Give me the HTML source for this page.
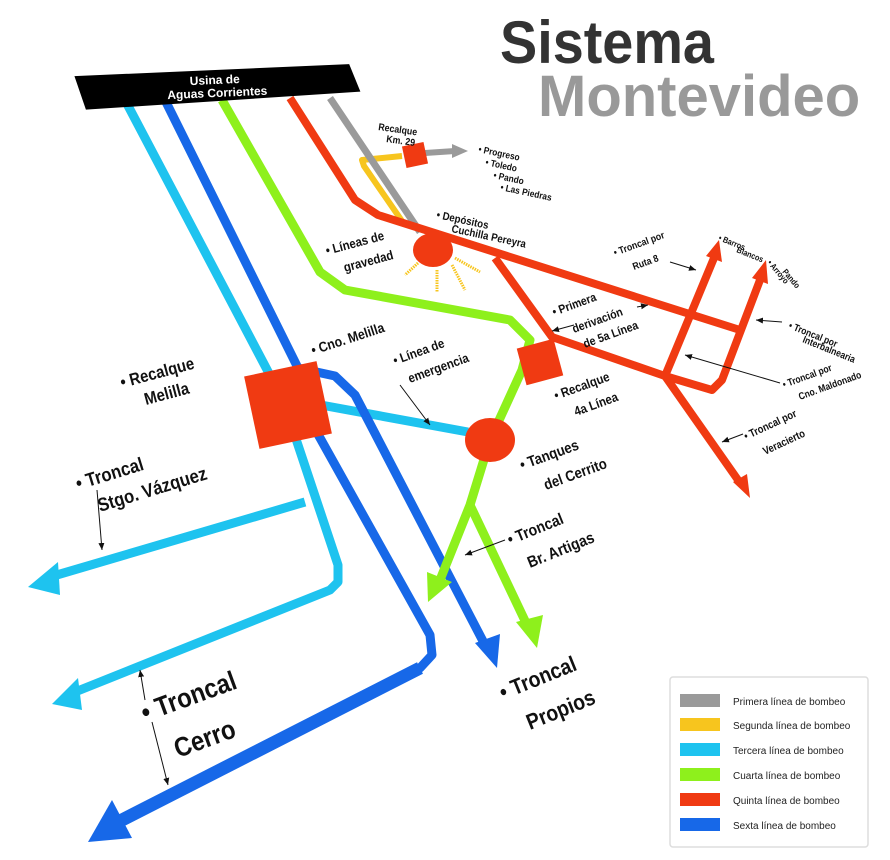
<!DOCTYPE html>
<html><head><meta charset="utf-8"><style>
html,body{margin:0;padding:0;background:#fff;}
svg{display:block;font-family:"Liberation Sans",sans-serif;}
.t{font-family:"Liberation Sans",sans-serif;fill:#111;font-weight:bold;}
</style></head><body>
<svg width="890" height="860" viewBox="0 0 890 860" xmlns="http://www.w3.org/2000/svg">
<defs>
<marker id="ah" markerWidth="8" markerHeight="8" refX="7" refY="4" orient="auto" markerUnits="userSpaceOnUse"><path d="M0,1 L7,4 L0,7 Z" fill="#111"/></marker>
</defs>
<rect width="890" height="860" fill="#fff"/>
<!-- Title -->
<text transform="translate(500,63) scale(0.93,1)" font-size="60" class="t" style="fill:#333">Sistema</text>
<text transform="translate(538,116) scale(1,1)" font-size="58" style="fill:#999" class="t">Montevideo</text>

<!-- yellow -->
<polyline points="404,224 364,166 362,160 402,156" fill="none" stroke="#f7c51e" stroke-width="6" stroke-linejoin="round"/>
<!-- gray -->
<polyline points="330,98 420,232" fill="none" stroke="#9a9a9a" stroke-width="7"/>
<line x1="425" y1="153" x2="455" y2="151" stroke="#9a9a9a" stroke-width="6"/>
<path d="M452,144 L468,151 L452,158 Z" fill="#9a9a9a"/>

<!-- cyan -->
<g fill="none" stroke="#1ec3ef" stroke-width="9" stroke-linejoin="round">
<polyline points="125,100 283,400 338,565 338,582 330,590 75,692"/>
<polyline points="305,502 50,577"/>
<polyline points="310,403 468,432"/>
</g>
<path d="M28,587 L58,562 L60,595 Z" fill="#1ec3ef"/>
<path d="M52,704 L78,678 L82,710 Z" fill="#1ec3ef"/>

<!-- blue -->
<g fill="none" stroke="#1768e8" stroke-width="9" stroke-linejoin="round">
<polyline points="165,100 298,368 335,376 355,395 485,645"/>
<polyline points="310,420 430,635 432,655 420,668 120,820"/>
</g>
<line x1="420" y1="668" x2="118" y2="822" stroke="#1768e8" stroke-width="13"/>
<path d="M88,842 L112,800 L132,838 Z" fill="#1768e8"/>
<path d="M497,668 L475,643 L500,634 Z" fill="#1768e8"/>

<!-- green -->
<g fill="none" stroke="#8ef01c" stroke-width="9" stroke-linejoin="round">
<polyline points="222,100 320,272 345,290 510,320 530,340 522,370 490,440 470,505 440,580"/>
<polyline points="470,505 527,625"/>
</g>
<path d="M428,602 L427,572 L452,582 Z" fill="#8ef01c"/>
<path d="M537,648 L516,622 L543,615 Z" fill="#8ef01c"/>

<!-- red -->
<g fill="none" stroke="#f03a12" stroke-width="8" stroke-linejoin="round">
<polyline points="290,98 355,200 378,215 740,330"/>
<polyline points="495,258 552,337 665,376 712,390 722,380 760,280"/>
<polyline points="665,376 714,258"/>
<polyline points="665,376 738,480"/>
</g>
<path d="M719,240 L722,262 L706,256 Z" fill="#f03a12"/>
<path d="M766,260 L768,284 L752,278 Z" fill="#f03a12"/>
<path d="M750,498 L733,482 L747,474 Z" fill="#f03a12"/>

<!-- nodes -->
<rect x="-37" y="-37" width="74" height="74" fill="#f03a12" transform="translate(288,405) rotate(-12)"/>
<rect x="-19" y="-19" width="38" height="38" fill="#f03a12" transform="translate(540,362) rotate(-15)"/>
<rect x="-11" y="-11" width="22" height="22" fill="#f03a12" transform="translate(415,155) rotate(-12)"/>
<ellipse cx="490" cy="440" rx="25" ry="22" fill="#f03a12"/>
<ellipse cx="433" cy="250" rx="20" ry="17" fill="#f03a12"/>
<g stroke="#f7c51e" stroke-width="3" stroke-dasharray="1.5 1">
<line x1="418" y1="263" x2="405" y2="275"/>
<line x1="437" y1="270" x2="437" y2="292"/>
<line x1="452" y1="265" x2="465" y2="290"/>
<line x1="455" y1="258" x2="480" y2="272"/>
</g>

<!-- header -->
<g transform="translate(215,86) rotate(-2.5)">
<path d="M-140,-16 L135,-16 L145,12 L-130,18 Z" fill="#000"/>
<text x="0" y="-2" text-anchor="middle" font-size="12" style="fill:#fff" class="t">Usina de</text>
<text x="2" y="11" text-anchor="middle" font-size="12" style="fill:#fff" class="t">Aguas Corrientes</text>
</g>

<!-- labels -->
<g class="t">
<text transform="translate(378,130) rotate(8) scale(0.88,1)" font-size="10">Recalque</text>
<text transform="translate(386,142) rotate(8) scale(0.88,1)" font-size="10">Km. 29</text>
<g font-size="9.5">
<text transform="translate(478,152) rotate(12) scale(0.88,1)">• Progreso</text>
<text transform="translate(485,165) rotate(12) scale(0.88,1)">• Toledo</text>
<text transform="translate(493,178) rotate(12) scale(0.88,1)">• Pando</text>
<text transform="translate(500,190) rotate(12) scale(0.88,1)">• Las Piedras</text>
</g>
<text transform="translate(436,218) rotate(12) scale(0.88,1)" font-size="11">• Depósitos</text>
<text transform="translate(451,232) rotate(12) scale(0.88,1)" font-size="11">Cuchilla Pereyra</text>
<text transform="translate(327,255) rotate(-15) scale(0.88,1)" font-size="13">• Líneas de</text>
<text transform="translate(345,272) rotate(-15) scale(0.88,1)" font-size="13">gravedad</text>
<text transform="translate(313,355) rotate(-18) scale(0.88,1)" font-size="14">• Cno. Melilla</text>
<text transform="translate(395,365) rotate(-20) scale(0.88,1)" font-size="13">• Línea de</text>
<text transform="translate(410,383) rotate(-20) scale(0.88,1)" font-size="13">emergencia</text>
<text transform="translate(122,388) rotate(-15) scale(0.88,1)" font-size="17">• Recalque</text>
<text transform="translate(146,405) rotate(-15) scale(0.88,1)" font-size="17">Melilla</text>
<text transform="translate(78,490) rotate(-17) scale(0.88,1)" font-size="19">• Troncal</text>
<text transform="translate(100,512) rotate(-17) scale(0.88,1)" font-size="19">Stgo. Vázquez</text>
<text transform="translate(145,722) rotate(-20) scale(0.88,1)" font-size="27">• Troncal</text>
<text transform="translate(178,758) rotate(-20) scale(0.88,1)" font-size="27">Cerro</text>
<text transform="translate(503,700) rotate(-22) scale(0.88,1)" font-size="22">• Troncal</text>
<text transform="translate(530,730) rotate(-22) scale(0.88,1)" font-size="22">Propios</text>
<text transform="translate(510,545) rotate(-22) scale(0.88,1)" font-size="16">• Troncal</text>
<text transform="translate(530,568) rotate(-22) scale(0.88,1)" font-size="16">Br. Artigas</text>
<text transform="translate(522,470) rotate(-20) scale(0.88,1)" font-size="15">• Tanques</text>
<text transform="translate(546,490) rotate(-20) scale(0.88,1)" font-size="15">del Cerrito</text>
<text transform="translate(556,400) rotate(-20) scale(0.88,1)" font-size="13">• Recalque</text>
<text transform="translate(576,416) rotate(-20) scale(0.88,1)" font-size="13">4a Línea</text>
<text transform="translate(554,316) rotate(-20) scale(0.88,1)" font-size="12">• Primera</text>
<text transform="translate(574,333) rotate(-20) scale(0.88,1)" font-size="12">derivación</text>
<text transform="translate(585,348) rotate(-20) scale(0.88,1)" font-size="12">de 5a Línea</text>
<text transform="translate(615,256) rotate(-20) scale(0.88,1)" font-size="10">• Troncal por</text>
<text transform="translate(634,270) rotate(-20) scale(0.88,1)" font-size="10">Ruta 8</text>
<text transform="translate(718,240) rotate(22) scale(0.85,1)" font-size="8.5">• Barros</text>
<text transform="translate(736,252) rotate(22) scale(0.85,1)" font-size="8.5">Blancos</text>
<text transform="translate(767,263) rotate(50) scale(0.85,1)" font-size="8.5">• Arroyo</text>
<text transform="translate(782,272) rotate(50) scale(0.85,1)" font-size="8.5">Pando</text>
<text transform="translate(788,328) rotate(22) scale(0.85,1)" font-size="10">• Troncal por</text>
<text transform="translate(802,342) rotate(22) scale(0.85,1)" font-size="10">Interbalnearia</text>
<text transform="translate(784,388) rotate(-20) scale(0.85,1)" font-size="10">• Troncal por</text>
<text transform="translate(800,400) rotate(-20) scale(0.85,1)" font-size="10">Cno. Maldonado</text>
<text transform="translate(746,440) rotate(-25) scale(0.85,1)" font-size="11">• Troncal por</text>
<text transform="translate(765,455) rotate(-25) scale(0.85,1)" font-size="11">Veracierto</text>
</g>

<!-- pointer lines -->
<g stroke="#111" stroke-width="1" fill="none" marker-end="url(#ah)">
<line x1="400" y1="385" x2="430" y2="425"/>
<line x1="97" y1="490" x2="102" y2="550"/>
<line x1="145" y1="700" x2="140" y2="670"/>
<line x1="152" y1="722" x2="168" y2="785"/>
<line x1="505" y1="540" x2="465" y2="555"/>
<line x1="574" y1="325" x2="552" y2="331"/>
<line x1="637" y1="307" x2="648" y2="305"/>
<line x1="670" y1="262" x2="696" y2="270"/>
<line x1="782" y1="322" x2="756" y2="320"/>
<line x1="780" y1="383" x2="685" y2="355"/>
<line x1="743" y1="434" x2="722" y2="442"/>
</g>

<!-- legend -->
<rect x="670" y="677" width="198" height="170" rx="3" fill="#fff" stroke="#ddd" stroke-width="1.5"/>
<g font-size="10" style="font-family:'Liberation Sans',sans-serif" fill="#222">
<rect x="680" y="694" width="40" height="13" fill="#9a9a9a"/><text x="733" y="705">Primera línea de bombeo</text>
<rect x="680" y="718" width="40" height="13" fill="#f7c51e"/><text x="733" y="729">Segunda línea de bombeo</text>
<rect x="680" y="743" width="40" height="13" fill="#1ec3ef"/><text x="733" y="754">Tercera línea de bombeo</text>
<rect x="680" y="768" width="40" height="13" fill="#8ef01c"/><text x="733" y="779">Cuarta línea de bombeo</text>
<rect x="680" y="793" width="40" height="13" fill="#f03a12"/><text x="733" y="804">Quinta línea de bombeo</text>
<rect x="680" y="818" width="40" height="13" fill="#1768e8"/><text x="733" y="829">Sexta línea de bombeo</text>
</g>
</svg>
</body></html>
